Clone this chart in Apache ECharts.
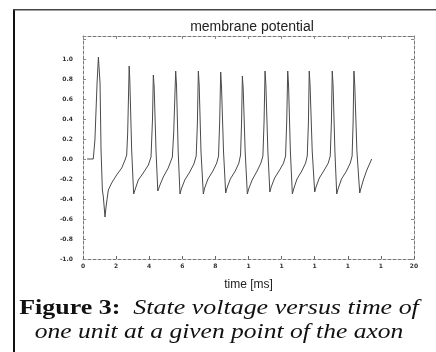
<!DOCTYPE html>
<html>
<head>
<meta charset="utf-8">
<script src="https://cdn.jsdelivr.net/npm/echarts@6/dist/echarts.min.js"></script>
<style>
html,body{margin:0;padding:0;background:#fff;}
#chart{width:436px;height:352px;}
</style>
</head>
<body>
<div id="chart"></div>
<script>
// time in ms
var timeMs = [
  0.25, 0.62, 0.72, 0.85, 0.93, 1.03, 1.09, 1.17, 1.23, 1.33, 1.39, 1.53, 1.73, 2.03, 2.34, 2.54, 2.64, 2.70, 2.79,
  2.83, 2.94, 3.06, 3.14, 3.34, 3.64, 3.95, 4.11, 4.20, 4.25,
  4.30, 4.41, 4.52, 4.65, 4.85, 5.15, 5.40, 5.48, 5.60,
  5.65, 5.75, 5.86, 5.94, 6.15, 6.45, 6.70, 6.84, 6.91, 6.97,
  7.02, 7.13, 7.27, 7.35, 7.55, 7.85, 8.08, 8.19, 8.26, 8.32,
  8.37, 8.49, 8.62, 8.70, 8.90, 9.20, 9.42, 9.52, 9.58, 9.63,
  9.68, 9.80, 9.93, 10.01, 10.22, 10.52, 10.75, 10.87, 10.94, 11.00,
  11.05, 11.17, 11.29, 11.37, 11.58, 11.88, 12.12, 12.24, 12.31, 12.37,
  12.42, 12.53, 12.65, 12.73, 12.93, 13.22, 13.45, 13.55, 13.62, 13.67,
  13.72, 13.85, 14.00, 14.08, 14.28, 14.58, 14.82, 14.94, 15.01, 15.06,
  15.11, 15.22, 15.33, 15.41, 15.62, 15.92, 16.15, 16.26, 16.32, 16.37,
  16.42, 16.55, 16.72, 16.80, 16.94, 17.15, 17.34, 17.44
];
// membrane potential
var voltage = [
  0.00, 0.00, 0.19, 0.76, 1.02, 0.76, 0.09, -0.31, -0.38, -0.58, -0.48, -0.31, -0.24, -0.16, -0.09, -0.01, 0.04, 0.26, 0.93,
  0.78, 0.09, -0.35, -0.31, -0.21, -0.14, -0.06, 0.02, 0.40, 0.84,
  0.72, 0.09, -0.32, -0.26, -0.18, -0.09, 0.02, 0.26, 0.88,
  0.74, 0.08, -0.35, -0.30, -0.21, -0.13, -0.05, 0.03, 0.35, 0.88,
  0.74, 0.07, -0.35, -0.29, -0.20, -0.12, -0.04, 0.03, 0.38, 0.87,
  0.72, 0.08, -0.34, -0.29, -0.20, -0.12, -0.04, 0.04, 0.36, 0.83,
  0.70, 0.07, -0.35, -0.30, -0.21, -0.12, -0.04, 0.03, 0.37, 0.88,
  0.74, 0.08, -0.33, -0.28, -0.19, -0.11, -0.04, 0.03, 0.38, 0.88,
  0.74, 0.08, -0.35, -0.30, -0.20, -0.12, -0.04, 0.03, 0.36, 0.88,
  0.74, 0.08, -0.33, -0.28, -0.19, -0.11, -0.04, 0.03, 0.37, 0.88,
  0.74, 0.08, -0.35, -0.30, -0.20, -0.12, -0.04, 0.03, 0.36, 0.88,
  0.74, 0.08, -0.34, -0.29, -0.21, -0.11, -0.04, 0.00
];
var xTickValues = [0, 2, 4, 6, 8, 10, 12, 14, 16, 18, 20];
var xTickLabels = ['0', '2', '4', '6', '8', '1', '1', '1', '1', '1', '20'];
var yTickLabels = ['-1.0', '-0.8', '-0.6', '-0.4', '-0.2', '0.0', '0.2', '0.4', '0.6', '0.8', '1.0'];

var chartTitle = 'membrane potential';
var xName = 'time [ms]';
var captionBold = 'Figure 3';
var captionLine1 = 'State voltage versus time of';
var captionLine2 = 'one unit at a given point of the axon';

var seriesData = timeMs.map(function (t, i) { return [t, voltage[i]]; });

var chart = echarts.init(document.getElementById('chart'), null, {renderer: 'canvas'});

var dashed = {color: '#777', width: 1, type: [3, 2]};
var labelFont = {fontSize: 6, fontFamily: 'DejaVu Sans', color: '#333', fontWeight: 'bold'};

function xFmt(v) {
  var idx = xTickValues.indexOf(Math.round(v));
  return idx >= 0 ? xTickLabels[idx] : '';
}
function yFmt(v) {
  var idx = Math.round((v + 1) / 0.2);
  if (Math.abs(v + 1 - idx * 0.2) > 1e-6) return '';
  return idx >= 0 && idx < yTickLabels.length ? yTickLabels[idx] : '';
}

chart.setOption({
  animation: false,
  backgroundColor: '#fff',
  grid: {left: 83, right: 22, top: 36, bottom: 93},
  title: {
    text: chartTitle,
    left: 247, top: 15, textAlign: 'center',
    textStyle: {fontSize: 14, fontWeight: 'normal', fontFamily: 'Liberation Sans', color: '#222'}
  },
  xAxis: [{
    type: 'value', min: 0, max: 20, interval: 2, position: 'bottom',
    axisLine: {show: true, onZero: false, lineStyle: dashed},
    axisTick: {show: true, inside: true, length: 3, lineStyle: {color: '#666'}},
    axisLabel: Object.assign({margin: 4, formatter: xFmt}, labelFont),
    splitLine: {show: false},
    name: xName, nameLocation: 'middle', nameGap: 20,
    nameTextStyle: {fontSize: 12, fontFamily: 'Liberation Sans', color: '#222'}
  }, {
    type: 'value', min: 0, max: 20, interval: 2, position: 'top',
    axisLine: {show: true, onZero: false, lineStyle: dashed},
    axisTick: {show: true, inside: true, length: 3, lineStyle: {color: '#888'}},
    axisLabel: {show: false}, splitLine: {show: false}
  }],
  yAxis: [{
    type: 'value', min: -1, max: 1.23, interval: 0.2, position: 'left',
    axisLine: {show: true, onZero: false, lineStyle: dashed},
    axisTick: {show: true, inside: true, length: 3, lineStyle: {color: '#888'}},
    axisLabel: Object.assign({margin: 10, formatter: yFmt}, labelFont),
    splitLine: {show: false}
  }, {
    type: 'value', min: -1, max: 1.23, interval: 0.2, position: 'right',
    axisLine: {show: true, onZero: false, lineStyle: dashed},
    axisTick: {show: true, inside: true, length: 3, lineStyle: {color: '#888'}},
    axisLabel: {show: false}, splitLine: {show: false}
  }],
  series: [{
    type: 'line',
    data: seriesData,
    showSymbol: false,
    lineStyle: {color: '#4a4a4a', width: 1},
    xAxisIndex: 0, yAxisIndex: 0
  }],
  graphic: [
    {type: 'rect', shape: {x: 13, y: 9, width: 2, height: 343}, style: {fill: '#111'}},
    {type: 'rect', shape: {x: 13, y: 9, width: 423, height: 1.5}, style: {fill: '#444'}},
    {
      type: 'text', x: 219, y: 308, scaleX: 1.18,
      style: {
        text: '{b|' + captionBold + '}{r|:  }{i|' + captionLine1 + '}',
        align: 'center', verticalAlign: 'middle',
        rich: {
          b: {fontFamily: 'Liberation Serif', fontWeight: 'bold', fontSize: 22, fill: '#111'},
          r: {fontFamily: 'Liberation Serif', fontWeight: 'bold', fontSize: 22, fill: '#111'},
          i: {fontFamily: 'Liberation Serif', fontStyle: 'italic', fontSize: 22, fill: '#111'}
        }
      }
    },
    {
      type: 'text', x: 219, y: 332, scaleX: 1.16,
      style: {
        text: captionLine2, align: 'center', verticalAlign: 'middle',
        fontFamily: 'Liberation Serif', fontStyle: 'italic', fontSize: 22, fill: '#111'
      }
    }
  ]
});
</script>
</body>
</html>
